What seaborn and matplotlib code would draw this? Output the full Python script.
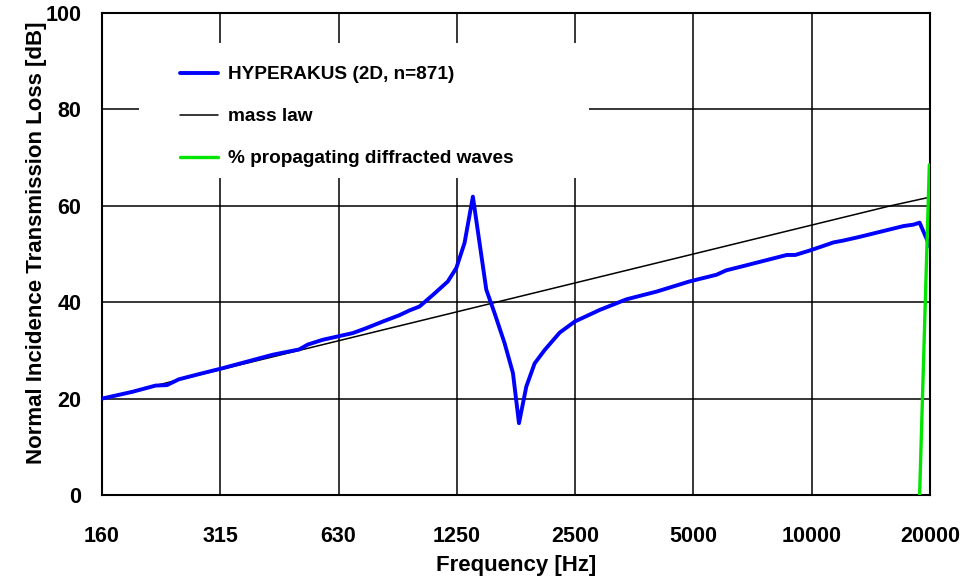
import numpy as np
import pandas as pd
import matplotlib
matplotlib.use("Agg")
import matplotlib.pyplot as plt
from matplotlib.patches import Rectangle
import seaborn as sns

# frequency axis is octave spaced (160 * 2^k), labelled with nominal band names
tick_pos = [160, 320, 640, 1280, 2560, 5120, 10240, 20480]
tick_labels = ["160", "315", "630", "1250", "2500", "5000", "10000", "20000"]

# HYPERAKUS (2D, n=871) transmission loss
hyp_freq = [160, 191, 219, 234, 251, 283, 324, 435, 508, 534, 583, 696, 752, 830,
            914, 970, 1028, 1112, 1214, 1276, 1339, 1406, 1462, 1521, 1597, 1693,
            1778, 1842, 1923, 2019, 2142, 2339, 2556, 2957, 3458, 4126, 5000, 5864,
            6200, 6860, 8848, 9300, 10100, 10800, 11630, 12340, 13470, 17540, 18600,
            19270, 20040, 20480]
hyp_tl = [20.0, 21.4, 22.7, 22.8, 24.0, 25.1, 26.3, 29.1, 30.2, 31.2, 32.2, 33.6, 34.6, 36.0,
          37.3, 38.3, 39.1, 41.5, 44.3, 47.1, 52.3, 61.9, 52.3, 42.6, 37.7, 31.5,
          25.3, 14.9, 22.5, 27.3, 30.1, 33.7, 36.0, 38.4, 40.6, 42.2, 44.3, 45.7,
          46.6, 47.5, 49.8, 49.8, 50.7, 51.5, 52.4, 52.8, 53.5, 55.8, 56.1,
          56.5, 53.3, 51.5]

# mass law
mass_freq = [160, 202, 254, 320, 403, 508, 640, 806, 1016, 1280, 1613, 2032, 2560,
             3225, 4064, 5120, 6451, 8128, 10240, 12902, 16255, 20480]
mass_tl = [20, 22, 24, 26, 28, 30, 32, 34, 36, 38, 40, 42, 44,
           46, 48, 50, 52, 54, 56, 58, 60, 61.8]

# % propagating diffracted waves
green_freq = [19270, 20400]
green_val = [0, 68.5]

sns.set_theme(style="white")
plt.rcParams["font.family"] = ["Liberation Sans", "DejaVu Sans"]
plt.rcParams["font.weight"] = "bold"
plt.rcParams["axes.labelweight"] = "bold"
plt.rcParams["text.color"] = "black"
plt.rcParams["axes.labelcolor"] = "black"
plt.rcParams["xtick.color"] = "black"
plt.rcParams["ytick.color"] = "black"

fig = plt.figure(figsize=(9.67, 5.8), dpi=100)
ax = fig.add_axes([102 / 967, 85 / 580, 828 / 967, 482 / 580])

df_h = pd.DataFrame({"f": hyp_freq, "tl": hyp_tl})
df_m = pd.DataFrame({"f": mass_freq, "tl": mass_tl})
df_g = pd.DataFrame({"f": green_freq, "tl": green_val})

sns.lineplot(data=df_h, x="f", y="tl", ax=ax, color="#0000ff", linewidth=2.8,
             label="HYPERAKUS (2D, n=871)", zorder=4, estimator=None)
sns.lineplot(data=df_m, x="f", y="tl", ax=ax, color="black", linewidth=1.1,
             label="mass law", zorder=3, estimator=None)
sns.lineplot(data=df_g, x="f", y="tl", ax=ax, color="#00e600", linewidth=2.4,
             label="% propagating diffracted waves", zorder=5, estimator=None)

ax.set_xscale("log", base=2)
ax.set_xlim(160, 20480)
ax.set_ylim(0, 100)
ax.set_xticks(tick_pos)
ax.set_xticklabels(tick_labels)
ax.minorticks_off()
ax.set_yticks([0, 20, 40, 60, 80, 100])

ax.grid(True, color="black", linewidth=1.1)
ax.set_axisbelow(True)
for s in ax.spines.values():
    s.set_color("black")
    s.set_linewidth(1.5)

ax.tick_params(axis="x", length=0, pad=22, labelsize=15.5, colors="black")
ax.tick_params(axis="y", length=0, pad=15, labelsize=15.5, colors="black")
for t in ax.get_xticklabels() + ax.get_yticklabels():
    t.set_fontweight("bold")

ax.set_xlabel("Frequency [Hz]", fontsize=16, fontweight="bold", color="black")
ax.set_ylabel("Normal Incidence Transmission Loss [dB]", fontsize=16, fontweight="bold",
              color="black")
ax.xaxis.label.set_va("center")
ax.xaxis.set_label_coords(0.5, -0.147)
ax.yaxis.label.set_va("center")
ax.yaxis.set_label_coords(-0.079, 0.523)

# white patch behind the legend hides the grid there
ax.add_patch(Rectangle((0.0447, 0.658), 0.544, 0.280, transform=ax.transAxes,
                       facecolor="white", edgecolor="none", zorder=1.5))

leg = ax.legend(loc="upper left", bbox_to_anchor=(0.0942, 0.890), frameon=False,
                borderpad=0, borderaxespad=0, handlelength=2.0, handletextpad=0.5,
                labelspacing=1.3, prop={"size": 13.7, "weight": "bold"})
leg.set_zorder(6)
for txt in leg.get_texts():
    txt.set_color("black")

fig.savefig("out.png", dpi=100)
